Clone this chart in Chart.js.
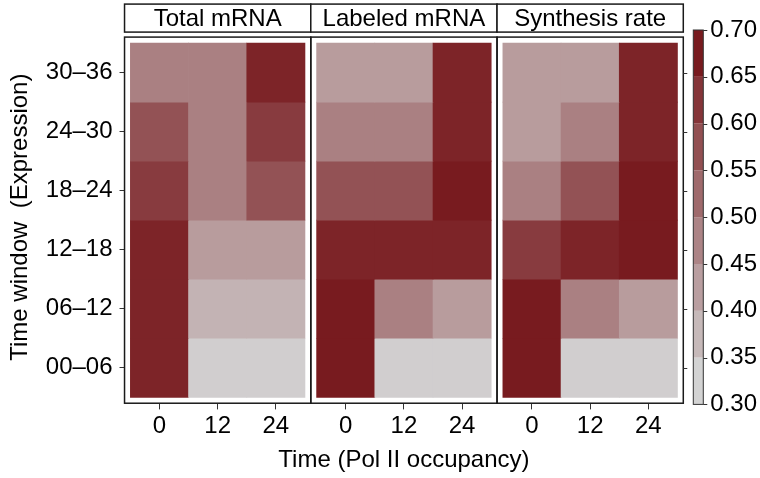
<!DOCTYPE html>
<html>
<head>
<meta charset="utf-8">
<script src="https://cdn.jsdelivr.net/npm/chart.js@4.4.0/dist/chart.umd.min.js"></script>
<style>
  html, body { margin: 0; padding: 0; background: #fff; }
</style>
</head>
<body>
<canvas id="heat" width="760" height="478"></canvas>
<script>
// facets, columns (Pol II time) and rows (expression window, bottom to top)
const panelNames = ['Total mRNA', 'Labeled mRNA', 'Synthesis rate'];
const polTimes = ['0', '12', '24'];
const windows = ['00–06', '06–12', '12–18', '18–24', '24–30', '30–36'];

// correlation per row (00-06 first), one value per Pol II time
const totalMRNA = [
    [0.68, 0.31, 0.31],
    [0.68, 0.37, 0.37],
    [0.68, 0.42, 0.42],
    [0.63, 0.48, 0.58],
    [0.58, 0.48, 0.63],
    [0.48, 0.48, 0.68]
];
const labeledMRNA = [
    [0.70, 0.31, 0.31],
    [0.70, 0.48, 0.42],
    [0.68, 0.68, 0.68],
    [0.58, 0.58, 0.70],
    [0.48, 0.48, 0.68],
    [0.42, 0.42, 0.68]
];
const synthesisRate = [
    [0.70, 0.31, 0.31],
    [0.70, 0.48, 0.42],
    [0.63, 0.68, 0.70],
    [0.48, 0.58, 0.70],
    [0.42, 0.48, 0.68],
    [0.42, 0.42, 0.68]
];
const colorTicks = [0.30, 0.35, 0.40, 0.45, 0.50, 0.55, 0.60, 0.65, 0.70];

const panelValues = [totalMRNA, labeledMRNA, synthesisRate];
const LOW = 0.30, HIGH = 0.70;
const FONT = '"Liberation Sans", Arial, sans-serif';
const X_TITLE = 'Time (Pol II occupancy)';

// grey -> dark red
function fillFor(v) {
    const t = Math.max(0, Math.min(1, (v - LOW) / (HIGH - LOW)));
    const lo = [211, 211, 211], hi = [120, 27, 31];
    const c = lo.map((l, i) => Math.round(l + (hi[i] - l) * t));
    return `rgb(${c[0]},${c[1]},${c[2]})`;
}

Chart.defaults.font.family = FONT;
Chart.defaults.font.size = 24;
Chart.defaults.color = '#000';

const datasets = panelValues.map((rows, p) => {
    const data = [];
    const colors = [];
    rows.forEach((row, r) => {
        row.forEach((v, c) => {
            data.push({ x: c, y: [r - 0.5, r + 0.5] });
            colors.push(fillFor(v));
        });
    });
    return {
        label: panelNames[p],
        xAxisID: 'x' + p,
        yAxisID: 'y',
        data: data,
        backgroundColor: colors,
        borderWidth: 0,
        barPercentage: 1,
        categoryPercentage: 1,
        grouped: false
    };
});

// the title is reserved on each panel axis (so the stack has one height)
// but drawn once by the plugin, since it is wider than one panel
function panelAxis() {
    return {
        type: 'linear',
        position: 'bottom',
        stack: 'panels',
        offset: false,
        min: -0.6,
        max: 2.6,
        afterBuildTicks: s => { s.ticks = polTimes.map((_, i) => ({ value: i })); },
        ticks: { callback: v => polTimes[v], padding: 3, maxRotation: 0, autoSkip: false },
        grid: { drawOnChartArea: false, offset: false, tickLength: 5, color: '#333' },
        border: { display: false },
        title: {
            display: true,
            text: X_TITLE,
            color: 'rgba(0,0,0,0)',
            padding: { top: 1, bottom: 4 }
        }
    };
}

// panel frames, strip labels, x title and colour bar
const facetPlugin = {
    id: 'facets',
    afterDatasetsDraw(chart) {
        const ctx = chart.ctx;
        const y = chart.scales.y;
        const top = y.getPixelForValue(5.6);
        const bottom = y.getPixelForValue(-0.6);
        ctx.save();
        ctx.strokeStyle = '#1a1a1a';
        ctx.lineWidth = 1.5;
        ctx.font = '24px ' + FONT;
        ctx.textAlign = 'center';
        ctx.textBaseline = 'middle';
        panelNames.forEach((name, p) => {
            const xs = chart.scales['x' + p];
            const l = xs.getPixelForValue(-0.6);
            const r = xs.getPixelForValue(2.6);
            ctx.strokeRect(l, top, r - l, bottom - top);
            const sTop = top - 33, sBot = top - 5;
            ctx.fillStyle = '#fff';
            ctx.fillRect(l, sTop, r - l, sBot - sTop);
            ctx.strokeRect(l, sTop, r - l, sBot - sTop);
            ctx.fillStyle = '#000';
            ctx.fillText(name, (l + r) / 2, (sTop + sBot) / 2 + 1);
        });

        // shared x title under the middle panel
        const mid = chart.scales.x1;
        ctx.fillText(X_TITLE, (mid.left + mid.right) / 2, mid.bottom - 3 - 14.4);

        // mirrored ticks on the right of the last panel
        const last = chart.scales['x' + (panelNames.length - 1)];
        const rEdge = last.getPixelForValue(2.6);
        ctx.strokeStyle = '#333';
        ctx.lineWidth = 1;
        windows.forEach((_, i) => {
            const py = Math.round(y.getPixelForValue(i)) + 0.5;
            ctx.beginPath();
            ctx.moveTo(rEdge, py);
            ctx.lineTo(rEdge + 4, py);
            ctx.stroke();
        });

        // colour bar
        const cb = chart.scales.cb;
        const bx = cb.left + 10, bw = 10;
        const nBins = 8;
        for (let i = 0; i < nBins; i++) {
            const v0 = LOW + (HIGH - LOW) * i / nBins;
            const v1 = LOW + (HIGH - LOW) * (i + 1) / nBins;
            const y0 = cb.getPixelForValue(v0);
            const y1 = cb.getPixelForValue(v1);
            ctx.fillStyle = fillFor(LOW + (HIGH - LOW) * i / (nBins - 1));
            ctx.fillRect(bx, y1, bw, y0 - y1);
        }
        ctx.strokeStyle = '#333';
        ctx.strokeRect(bx, cb.getPixelForValue(HIGH), bw, cb.getPixelForValue(LOW) - cb.getPixelForValue(HIGH));
        colorTicks.forEach(v => {
            const py = Math.round(cb.getPixelForValue(v)) + 0.5;
            ctx.beginPath();
            ctx.moveTo(bx + bw, py);
            ctx.lineTo(bx + bw + 4, py);
            ctx.stroke();
        });
        ctx.restore();
    }
};

new Chart(document.getElementById('heat'), {
    type: 'bar',
    data: { datasets: datasets },
    options: {
        responsive: false,
        animation: false,
        devicePixelRatio: 1,
        layout: { padding: { left: 6, right: 0, top: 30, bottom: 0 } },
        plugins: { legend: { display: false }, tooltip: { enabled: false } },
        scales: {
            x0: panelAxis(),
            x1: panelAxis(),
            x2: panelAxis(),
            y: {
                type: 'linear',
                position: 'left',
                min: -0.62,
                max: 5.72,
                afterBuildTicks: s => { s.ticks = windows.map((_, i) => ({ value: i })); },
                ticks: { callback: v => windows[v], padding: 7 },
                grid: { drawOnChartArea: false, tickLength: 5, color: '#333' },
                border: { display: false },
                title: {
                    display: true,
                    text: 'Time window  (Expression)',
                    padding: { top: 0, bottom: 4 }
                }
            },
            cb: {
                type: 'linear',
                position: 'right',
                min: LOW,
                max: HIGH,
                afterBuildTicks: s => { s.ticks = colorTicks.map(v => ({ value: v })); },
                ticks: { callback: v => v.toFixed(2), padding: 3 },
                grid: { display: false, drawTicks: true, tickLength: 24 },
                border: { display: false }
            }
        }
    },
    plugins: [facetPlugin]
});
</script>
</body>
</html>
